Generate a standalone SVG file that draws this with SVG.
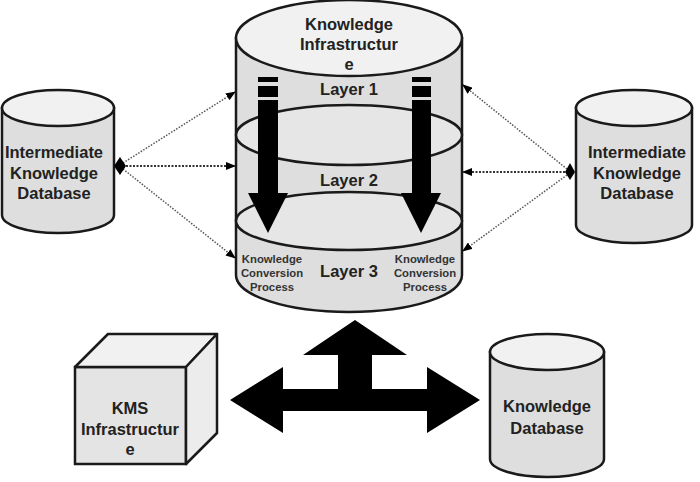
<svg xmlns="http://www.w3.org/2000/svg" width="700" height="482" viewBox="0 0 700 482">
<defs>
<marker id="ah" markerWidth="10" markerHeight="8" refX="9" refY="4" orient="auto" markerUnits="userSpaceOnUse">
<path d="M0,0 L10,4 L0,8 Z" fill="#000"/>
</marker>
<style>
.body{fill:#dedede;stroke:#1a1a1a;stroke-width:2.5}
.top{fill:#f1f1f1;stroke:#1a1a1a;stroke-width:2.5}
.lay{fill:#e6e6e6;stroke:#1a1a1a;stroke-width:2.5}
.t{font-family:"Liberation Sans",Arial,sans-serif;font-weight:bold;font-size:16.5px;fill:#222;text-anchor:middle}
.s{font-family:"Liberation Sans",Arial,sans-serif;font-weight:bold;font-size:11.3px;fill:#333;text-anchor:middle}
.dot{stroke:#555;stroke-width:1.5;stroke-dasharray:1.5 1.5;fill:none}
.dot2{stroke:#333;stroke-width:2;stroke-dasharray:2 1.5;fill:none}
.blk{fill:#000}
</style>
</defs>

<g id="knowledge-infrastructure">
<path class="body" d="M236,38 L236,275 A113,37 0 0 0 462,275 L462,38 Z"/>
<ellipse class="top" cx="349" cy="38" rx="113" ry="38"/>
<ellipse class="lay" cx="349" cy="135" rx="113" ry="30"/>
<ellipse class="lay" cx="349" cy="221" rx="113" ry="29"/>
<g id="conversion-arrows" class="blk">
<rect x="258" y="77" width="20" height="5"/>
<rect x="258" y="86" width="20" height="11"/>
<rect x="258" y="100" width="20" height="95"/>
<polygon points="248,193 288,193 268,233"/>
<rect x="412" y="77" width="19" height="5"/>
<rect x="412" y="86" width="19" height="11"/>
<rect x="412" y="100" width="19" height="95"/>
<polygon points="401,193 441,193 421,233"/>
</g>
<text class="t" x="349" y="30">Knowledge</text>
<text class="t" x="349" y="50">Infrastructur</text>
<text class="t" x="349" y="70">e</text>
<text class="t" x="349" y="95" font-size="15.5">Layer 1</text>
<text class="t" x="349" y="186" font-size="15.5">Layer 2</text>
<text class="t" x="349" y="277" font-size="15.5">Layer 3</text>
<text class="s" x="272" y="263">Knowledge</text>
<text class="s" x="272" y="277">Conversion</text>
<text class="s" x="272" y="291">Process</text>
<text class="s" x="425" y="263">Knowledge</text>
<text class="s" x="425" y="277">Conversion</text>
<text class="s" x="425" y="291">Process</text>
</g>

<g id="intermediate-db-left">
<path class="body" d="M2,108 L2,215 A56,18 0 0 0 114,215 L114,108 Z"/>
<ellipse class="top" cx="58" cy="108" rx="56" ry="18"/>
<text class="t" x="54" y="158">Intermediate</text>
<text class="t" x="54" y="179">Knowledge</text>
<text class="t" x="54" y="199">Database</text>
</g>

<g id="intermediate-db-right">
<path class="body" d="M576,108 L576,225 A58,18 0 0 0 692,225 L692,108 Z"/>
<ellipse class="top" cx="634" cy="108" rx="58" ry="18"/>
<text class="t" x="637" y="158">Intermediate</text>
<text class="t" x="637" y="179">Knowledge</text>
<text class="t" x="637" y="199">Database</text>
</g>

<g id="kms-infrastructure">
<rect x="75" y="367" width="111" height="97" fill="#e4e4e4" stroke="#1a1a1a" stroke-width="2.5"/>
<polygon points="75,367 108,334 217,334 186,367" fill="#f1f1f1" stroke="#1a1a1a" stroke-width="2.5" stroke-linejoin="round"/>
<polygon points="186,367 217,334 217,433 186,464" fill="#ececec" stroke="#1a1a1a" stroke-width="2.5" stroke-linejoin="round"/>
<text class="t" x="130" y="414">KMS</text>
<text class="t" x="130" y="435">Infrastructur</text>
<text class="t" x="130" y="455">e</text>
</g>

<g id="knowledge-database">
<path class="body" d="M490,352 L490,459 A57,18 0 0 0 604,459 L604,352 Z"/>
<ellipse class="top" cx="547" cy="352" rx="57" ry="18"/>
<text class="t" x="547" y="412">Knowledge</text>
<text class="t" x="547" y="434">Database</text>
</g>

<g id="connectors">
<polygon class="blk" points="230,400 283,367 283,389 338,389 338,355 303,355 355,320 407,355 372,355 372,389 427,389 427,367 480,400 427,433 427,411 283,411 283,433"/>
<line class="dot" x1="123" y1="163" x2="235" y2="92" marker-end="url(#ah)"/>
<line class="dot2" x1="126" y1="166" x2="235" y2="166" marker-end="url(#ah)"/>
<line class="dot" x1="123" y1="169" x2="235" y2="258" marker-end="url(#ah)"/>
<polygon class="blk" points="114,166 120,157 126,166 120,175"/>
<line class="dot" x1="567" y1="169" x2="463" y2="85" marker-end="url(#ah)"/>
<line class="dot2" x1="565" y1="172" x2="463" y2="172" marker-end="url(#ah)"/>
<line class="dot" x1="567" y1="175" x2="463" y2="251" marker-end="url(#ah)"/>
<polygon class="blk" points="565,172 570,163 575,172 570,180"/>
</g>
</svg>
